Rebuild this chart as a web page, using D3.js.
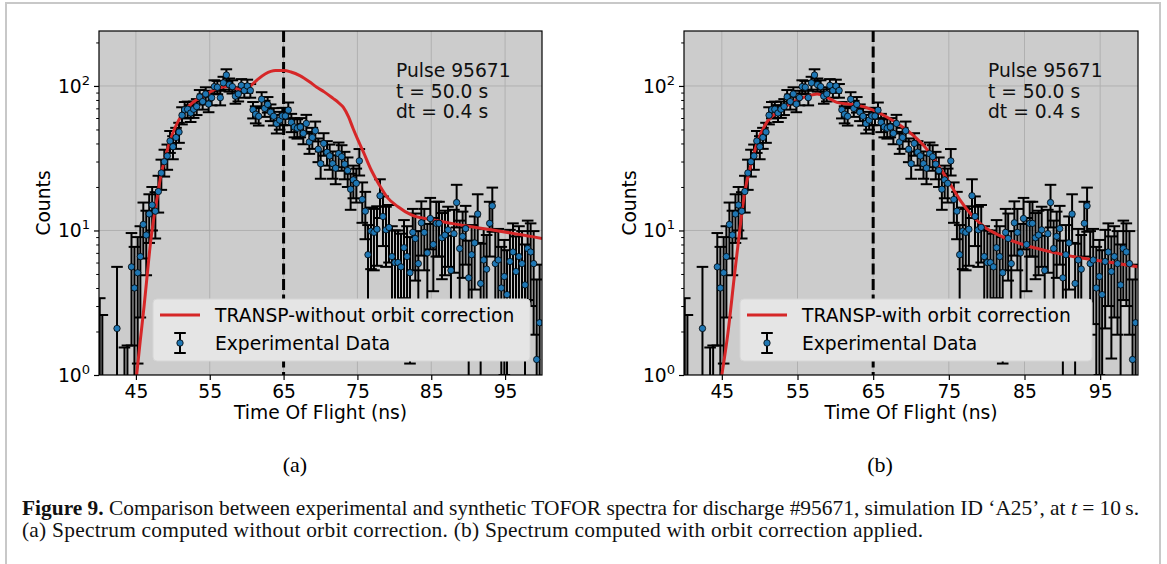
<!DOCTYPE html>
<html>
<head>
<meta charset="utf-8">
<script src="https://cdn.jsdelivr.net/npm/d3@7"></script>
<style>
  body { margin: 0; background: #fff; }
  svg { display: block; font-family: "DejaVu Sans", sans-serif; }
</style>
</head>
<body>
<svg id="fig" width="1167" height="564"></svg>
<script>
// experimental TOFOR spectrum (same in both panels)
const tof = [
  40.1, 40.45, 42.44, 43.45, 43.85, 44.4, 44.8, 45.24, 45.6, 46.0,
  46.4, 46.8, 47.2, 47.63, 48.04, 48.44, 48.85, 49.25, 49.62, 50.02,
  50.43, 50.84, 51.24, 51.6, 52.0, 52.42, 52.82, 53.23, 53.63, 54.04,
  54.45, 54.85, 55.26, 55.62, 56.03, 56.43, 56.84, 57.25, 57.65, 58.06,
  58.47, 58.87, 59.28, 59.68, 60.09, 60.5, 60.86, 61.22, 61.63, 62.03,
  62.44, 62.84, 63.25, 63.66, 64.06, 64.47, 64.83, 65.24, 65.64, 66.05,
  66.46, 66.86, 67.27, 67.67, 68.08, 68.49, 68.89, 69.3, 69.7, 70.02,
  70.43, 70.88, 71.24, 71.65, 72.05, 72.46, 72.87, 73.27, 73.68, 74.08,
  74.45, 74.85, 75.26, 75.66, 76.07, 76.43, 76.84, 77.24, 77.65, 78.06,
  78.46, 78.87, 79.28, 79.68, 80.09, 80.5, 80.9, 81.31, 81.72, 82.12,
  82.5, 82.84, 83.25, 83.66, 84.06, 84.47, 84.87, 85.28, 85.69, 86.05,
  86.45, 86.86, 87.27, 87.67, 88.08, 88.44, 88.85, 89.25, 89.66, 90.07,
  90.47, 90.88, 91.29, 91.69, 92.1, 92.5, 92.91, 93.27, 93.68, 94.08,
  94.49, 94.9, 95.26, 95.66, 96.07, 96.48, 96.88, 97.29, 97.7, 98.06,
  98.46, 98.87, 99.28, 99.68
];
const counts = [
  0.4, 0.3, 2.1, 0.3, 0.35, 5.6, 4.0, 5.1, 6.6, 11,
  9.3, 13, 15, 13.6, 18.6, 25, 29.9, 32.8, 41.6, 38,
  44, 48, 62.7, 68.5, 69, 65, 69, 72, 84, 78,
  88, 75, 83, 99, 98, 83, 105, 119, 102, 99,
  85, 88, 101, 93, 100, 93, 68.5, 63.7, 61.7, 81,
  70, 74.6, 65.8, 61.7, 55, 58, 62, 62, 68, 56,
  52, 51, 52, 47, 55, 41, 44, 49, 36.5, 29,
  40, 34.8, 32.8, 29, 27, 34, 32.4, 28.8, 26, 19.3,
  22.4, 21.2, 30.3, 16.4, 13.6, 6.8, 9.9, 9.7, 10.2, 17.4,
  12.5, 10.1, 10.5, 6.6, 6.0, 6.0, 5.6, 7.6, 6.6, 5.1,
  9.7, 8.8, 5.9, 11.3, 9.7, 7.0, 12.1, 8.0, 11.2, 11.2,
  8.9, 9.3, 10.1, 5.3, 9.5, 15.6, 7.5, 9.1, 10.3, 4.7,
  6.8, 8.2, 13, 4.3, 6.25, 5.4, 11.2, 14.8, 5.9, 6.25,
  4.0, 4.8, 3.6, 6.1, 7.1, 5.2, 6.6, 5.9, 4.2, 7.5,
  7.1, 5.9, 1.28, 2.3
];
const countErr = [
  3.0, 2.3, 3.5, 1.25, 1.25, 4.0, 3.7, 3.9, 4.1, 4.6,
  4.4, 4.8, 5.0, 4.8, 5.3, 5.9, 6.3, 6.5, 7.2, 6.9,
  7.3, 7.6, 8.5, 8.9, 8.9, 8.7, 8.9, 9.1, 9.7, 9.4,
  9.9, 9.2, 9.6, 10.4, 10.4, 9.6, 10.7, 11.4, 10.6, 10.4,
  9.7, 9.9, 10.5, 10.1, 10.5, 10.1, 8.9, 8.6, 8.5, 9.5,
  8.9, 9.2, 8.7, 8.5, 8.1, 8.2, 8.5, 8.5, 8.8, 8.1,
  7.9, 7.8, 7.9, 7.5, 8.1, 7.1, 7.3, 7.7, 6.8, 6.2,
  7.1, 6.7, 6.5, 6.2, 6.1, 6.6, 6.5, 6.2, 6.0, 5.4,
  5.7, 5.6, 6.3, 5.1, 4.9, 4.1, 4.5, 4.4, 4.5, 5.2,
  4.7, 4.5, 4.5, 4.1, 4.0, 4.0, 3.9, 4.2, 4.1, 3.9,
  4.4, 4.3, 4.0, 4.6, 4.4, 4.1, 4.7, 4.2, 4.6, 4.6,
  4.3, 4.4, 4.5, 3.9, 4.4, 5.1, 4.2, 4.4, 4.5, 3.8,
  4.1, 4.3, 4.8, 3.8, 4.0, 3.9, 4.6, 5.0, 4.0, 4.0,
  3.7, 3.8, 3.7, 4.0, 4.1, 3.9, 4.1, 4.0, 3.8, 4.2,
  4.1, 4.0, 3.3, 3.5
];

// TRANSP synthetic spectra
const fitTofA = [45.1, 45.6, 46.1, 46.55, 47.0, 47.45, 47.9, 48.35, 49.0, 49.9,
  50.8, 51.7, 52.6, 53.5, 54.9, 56.25, 57.6, 59.0, 60.1, 60.8,
  61.5, 62.5, 63.9, 65.0, 66.0, 67.2, 68.5, 69.5, 70.5, 71.7,
  72.4, 73.1, 73.8, 74.4, 75.1, 75.8, 76.9, 78.0, 79.1, 80.5,
  82.3, 85.0, 87.7, 90.4, 93.1, 95.8, 98.5, 100];
const fitCountsA = [1.0, 1.75, 2.97, 5.06, 8.4, 12.5, 17.1, 23.6, 32.4, 45.8,
  58, 68, 76, 82, 90, 97, 99, 95, 97, 103,
  111, 121, 128, 128, 125, 118, 107, 98, 91, 82,
  77, 71, 61, 51, 42, 35, 26, 20.5, 16.8, 14.6,
  12.8, 11.9, 11.2, 10.6, 10.1, 9.6, 9.1, 8.8];
const fitTofB = [45.0, 45.8, 46.65, 47.5, 48.0, 48.85, 49.7, 51.0, 52.8, 54.5,
  56.3, 57.6, 58.9, 60.2, 62.0, 63.7, 65.0, 66.8, 68.5, 70.3,
  72.0, 72.9, 74.7, 76.4, 78.2, 79.9, 81.6, 85.1, 88.6, 92.1,
  95.7, 100];
const fitCountsB = [1.0, 1.94, 4.8, 11.5, 18, 28.4, 41, 56.6, 68, 78,
  85, 88, 83.5, 77, 74.7, 72, 68, 61, 53.7, 45.5,
  37, 32, 23, 16.5, 12.5, 10.4, 9.3, 7.9, 7.1, 6.5,
  6.1, 5.6];

const xTicks = [45, 55, 65, 75, 85, 95];
const yTicks = [1, 10, 100];
const yMinorTicks = [2, 3, 4, 5, 6, 7, 8, 9, 20, 30, 40, 50, 60, 70, 80, 90, 200];
const yTickExp = ['0', '1', '2'];
const noteLines = ['Pulse 95671', 't = 50.0 s', 'dt = 0.4 s'];

const panels = [
  {id: 'a', left: 99, right: 542, fitT: fitTofA, fitV: fitCountsA,
   label: 'TRANSP-without orbit correction', legendX: 153, legendW: 377,
   noteX: 396, countsX: 50, tag: '(a)', tagX: 295},
  {id: 'b', left: 684, right: 1138, fitT: fitTofB, fitV: fitCountsB,
   label: 'TRANSP-with orbit correction', legendX: 740, legendW: 352,
   noteX: 988, countsX: 636, tag: '(b)', tagX: 880}
];

const TOP = 31, BOTTOM = 375;
const FS = 18.7;
const svg = d3.select('#fig');

// page frame
svg.append('path')
    .attr('d', 'M6,564V3H1160V564')
    .attr('fill', 'none')
    .attr('stroke', '#c8c8c8')
    .attr('stroke-width', 2);

const data = tof.map((t, i) => ({t: t, v: counts[i], e: countErr[i]}));

panels.forEach(p => {
  const x = d3.scaleLinear().domain([40, 100]).range([p.left, p.right]);
  const y = d3.scaleLog().domain([1, 240]).range([BOTTOM, TOP]);

  svg.append('clipPath').attr('id', 'clip-' + p.id)
    .append('rect')
      .attr('x', p.left).attr('y', TOP)
      .attr('width', p.right - p.left).attr('height', BOTTOM - TOP);

  const g = svg.append('g').attr('clip-path', `url(#clip-${p.id})`);

  g.append('rect')
      .attr('x', p.left).attr('y', TOP)
      .attr('width', p.right - p.left).attr('height', BOTTOM - TOP)
      .attr('fill', '#cccccc');

  // grid
  g.selectAll('.gx').data(xTicks).join('line')
      .attr('x1', d => x(d)).attr('x2', d => x(d))
      .attr('y1', TOP).attr('y2', BOTTOM)
      .attr('stroke', '#b0b0b0').attr('stroke-width', 1);
  g.selectAll('.gy').data(yTicks).join('line')
      .attr('x1', p.left).attr('x2', p.right)
      .attr('y1', d => y(d)).attr('y2', d => y(d))
      .attr('stroke', '#b0b0b0').attr('stroke-width', 1);

  // dashed marker at 65 ns
  g.append('line')
      .attr('x1', x(65)).attr('x2', x(65))
      .attr('y1', TOP).attr('y2', BOTTOM)
      .attr('stroke', '#000').attr('stroke-width', 3)
      .attr('stroke-dasharray', '11,4.5');

  // error bars
  const lo = d => y(Math.max(d.v - d.e, 0.01));
  const hi = d => y(d.v + d.e);
  const bars = g.append('g').attr('stroke', '#000').attr('stroke-width', 2);
  bars.selectAll('.bar').data(data).join('line')
      .attr('x1', d => x(d.t)).attr('x2', d => x(d.t))
      .attr('y1', lo).attr('y2', hi);
  bars.selectAll('.capHi').data(data).join('line')
      .attr('x1', d => x(d.t) - 5.8).attr('x2', d => x(d.t) + 5.8)
      .attr('y1', hi).attr('y2', hi);
  bars.selectAll('.capLo').data(data.filter(d => d.v - d.e > 0)).join('line')
      .attr('x1', d => x(d.t) - 5.8).attr('x2', d => x(d.t) + 5.8)
      .attr('y1', lo).attr('y2', lo);

  // synthetic spectrum
  const fit = p.fitT.map((t, i) => [t, p.fitV[i]]);
  g.append('path')
      .datum(fit)
      .attr('fill', 'none')
      .attr('stroke', '#d62728')
      .attr('stroke-width', 3)
      .attr('d', d3.line().x(d => x(d[0])).y(d => y(d[1])).curve(d3.curveMonotoneX));

  // markers
  g.selectAll('.pt').data(data.filter(d => d.v > 0)).join('circle')
      .attr('cx', d => x(d.t)).attr('cy', d => y(d.v))
      .attr('r', 3.2)
      .attr('fill', '#1f77b4')
      .attr('stroke', '#000').attr('stroke-width', 0.8);

  // axes
  const gx = svg.append('g')
      .attr('transform', `translate(0,${BOTTOM})`)
      .call(d3.axisBottom(x).tickValues(xTicks).tickSize(5).tickPadding(5).tickFormat(d3.format('d')));
  gx.select('.domain').remove();
  gx.selectAll('line').attr('stroke', '#000').attr('stroke-width', 1.2);
  gx.selectAll('text').attr('font-size', FS).attr('font-family', 'DejaVu Sans').attr('fill', '#000');

  const gy = svg.append('g')
      .attr('transform', `translate(${p.left},0)`)
      .call(d3.axisLeft(y).tickValues(yTicks).tickSize(5).tickFormat(''));
  gy.select('.domain').remove();
  gy.selectAll('line').attr('stroke', '#000').attr('stroke-width', 1.2);

  const gym = svg.append('g')
      .attr('transform', `translate(${p.left},0)`)
      .call(d3.axisLeft(y).tickValues(yMinorTicks.filter(v => v <= 240)).tickSize(2.8).tickFormat(''));
  gym.select('.domain').remove();
  gym.selectAll('line').attr('stroke', '#000').attr('stroke-width', 1);

  yTicks.forEach((v, i) => {
    const t = svg.append('text')
        .attr('x', p.left - 9)
        .attr('y', y(v) + 6.8)
        .attr('text-anchor', 'end')
        .attr('font-size', FS);
    t.append('tspan').text('10');
    t.append('tspan').attr('dy', -8).attr('font-size', FS * 0.7).text(yTickExp[i]);
  });

  // spines
  svg.append('rect')
      .attr('x', p.left).attr('y', TOP)
      .attr('width', p.right - p.left).attr('height', BOTTOM - TOP)
      .attr('fill', 'none').attr('stroke', '#000').attr('stroke-width', 1.2);

  // axis labels
  svg.append('text')
      .attr('x', (p.left + p.right) / 2).attr('y', 418.5)
      .attr('text-anchor', 'middle').attr('font-size', FS)
      .text('Time Of Flight (ns)');
  svg.append('text')
      .attr('transform', `translate(${p.countsX},${(TOP + BOTTOM) / 2}) rotate(-90)`)
      .attr('text-anchor', 'middle').attr('font-size', FS)
      .text('Counts');

  // annotation
  svg.append('g').selectAll('text').data(noteLines).join('text')
      .attr('x', p.noteX).attr('y', (d, i) => 76.7 + i * 20.8)
      .attr('font-size', FS).attr('fill', '#111')
      .text(d => d);

  // legend
  const lg = svg.append('g');
  lg.append('rect')
      .attr('x', p.legendX).attr('y', 299)
      .attr('width', p.legendW).attr('height', 62)
      .attr('rx', 4)
      .attr('fill', '#e5e5e5').attr('stroke', '#d6d6d6').attr('stroke-width', 1);
  lg.append('line')
      .attr('x1', p.legendX + 7).attr('x2', p.legendX + 47)
      .attr('y1', 315).attr('y2', 315)
      .attr('stroke', '#d62728').attr('stroke-width', 3);
  const ex = p.legendX + 27;
  lg.append('path')
      .attr('d', `M${ex},333V353M${ex - 5.8},333H${ex + 5.8}M${ex - 5.8},353H${ex + 5.8}`)
      .attr('stroke', '#000').attr('stroke-width', 2).attr('fill', 'none');
  lg.append('circle')
      .attr('cx', ex).attr('cy', 343).attr('r', 3.2)
      .attr('fill', '#1f77b4').attr('stroke', '#000').attr('stroke-width', 0.8);
  lg.append('text').attr('x', p.legendX + 62).attr('y', 321.8)
      .attr('font-size', FS).text(p.label);
  lg.append('text').attr('x', p.legendX + 62).attr('y', 349.8)
      .attr('font-size', FS).text('Experimental Data');

  // sub-figure tag
  svg.append('text')
      .attr('x', p.tagX).attr('y', 472)
      .attr('text-anchor', 'middle')
      .attr('font-family', '"Liberation Serif", serif')
      .attr('font-size', 22)
      .text(p.tag);
});

// caption
const cap = svg.append('g').attr('font-family', '"Liberation Serif", "DejaVu Serif", serif').attr('fill', '#111');
const line1 = cap.append('text').attr('x', 22).attr('y', 514.5).attr('font-size', 20);
line1.append('tspan').attr('font-weight', 'bold').text('Figure 9.');
line1.append('tspan').text(' Comparison between experimental and synthetic TOFOR spectra for discharge #95671, simulation ID \u2018A25\u2019, at ');
line1.append('tspan').attr('font-style', 'italic').text('t');
line1.append('tspan').text(' = 10\u2009s.');
const line2 = cap.append('text').attr('x', 22).attr('y', 537).attr('font-size', 20)
    .text('(a) Spectrum computed without orbit correction. (b) Spectrum computed with orbit correction applied.');

// same size for both lines, fitted to the first; second stretched by spacing
const w1 = line1.node().getComputedTextLength();
const capSize = 20 * 1118 / w1;
line1.attr('font-size', capSize);
line2.attr('font-size', capSize)
    .attr('textLength', 901)
    .attr('lengthAdjust', 'spacing');
</script>
</body>
</html>
